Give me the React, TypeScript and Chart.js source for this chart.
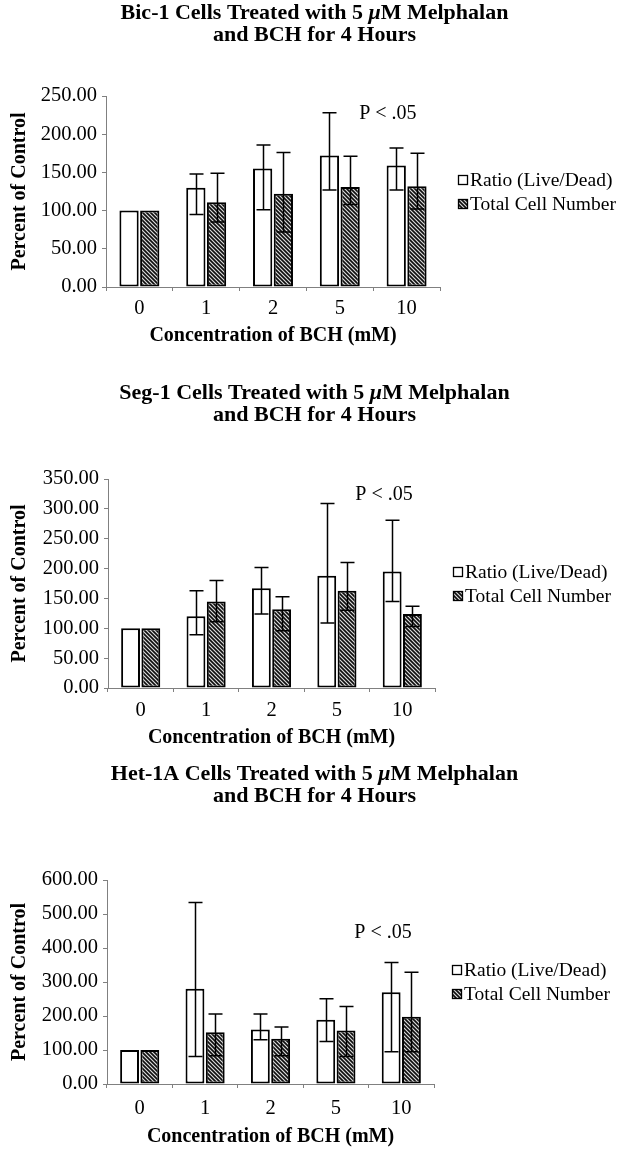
import React, { useEffect, useRef } from 'react';
import { Chart, registerables } from 'chart.js';

Chart.register(...registerables);

const PAGE_W = 629;
const FONT = '"Liberation Serif", "Times New Roman", serif';
const AXIS = '#808080';

// ---- shared text ----
const categories = ['0', '1', '2', '5', '10'];
const seriesLabels = ['Ratio (Live/Dead)', 'Total Cell Number'];
const titleLine2 = 'and BCH for 4 Hours';
const yAxisTitle = 'Percent of Control';
const xAxisTitle = 'Concentration of BCH (mM)';
const pValueText = 'P < .05';

// ---- Bic-1 ----
const bicTitle = 'Bic-1 Cells Treated with 5 \u03bcM Melphalan';
const bicRatio = [100, 130, 155, 172, 159];
const bicRatioLow = [null, 95, 101, 127, 127];
const bicRatioHigh = [null, 148, 186, 228, 182];
const bicTotal = [100, 111, 122, 131, 132];
const bicTotalLow = [null, 85, 72, 108, 102];
const bicTotalHigh = [null, 149, 176, 171, 175];
const bicYTicks = [0, 50, 100, 150, 200, 250];

// ---- Seg-1 ----
const segTitle = 'Seg-1 Cells Treated with 5 \u03bcM Melphalan';
const segRatio = [100, 120, 167, 188, 195];
const segRatioLow = [null, 89, 124, 109, 145];
const segRatioHigh = [null, 163, 202, 309, 281];
const segTotal = [100, 145, 132, 163, 124];
const segTotalLow = [null, 111, 96, 130, 103];
const segTotalHigh = [null, 180, 153, 210, 137];
const segYTicks = [0, 50, 100, 150, 200, 250, 300, 350];

// ---- Het-1A ----
const hetTitle = 'Het-1A Cells Treated with 5 \u03bcM Melphalan';
const hetRatio = [100, 280, 160, 189, 270];
const hetRatioLow = [null, 81, 130, 125, 95];
const hetRatioHigh = [null, 534, 206, 251, 357];
const hetTotal = [100, 152, 133, 157, 198];
const hetTotalLow = [null, 83, 83, 81, 95];
const hetTotalHigh = [null, 206, 168, 228, 329];
const hetYTicks = [0, 100, 200, 300, 400, 500, 600];

type Spec = {
  title: string;
  ratio: number[]; ratioLow: (number | null)[]; ratioHigh: (number | null)[];
  total: number[]; totalLow: (number | null)[]; totalHigh: (number | null)[];
  yTicks: number[];
  pAt: { x: number; y: number };
  // layout (page coordinates)
  top: number; height: number; titleY1: number;
  areaTop: number; areaBottom: number; areaLeft: number; areaRight: number;
  labelY: number; xTitleY: number;
};

const specs: Spec[] = [
  {
    title: bicTitle, ratio: bicRatio, ratioLow: bicRatioLow, ratioHigh: bicRatioHigh,
    total: bicTotal, totalLow: bicTotalLow, totalHigh: bicTotalHigh, yTicks: bicYTicks,
    pAt: { x: 3.72, y: 227 },
    top: 0, height: 376, titleY1: 13, areaTop: 96, areaBottom: 287, areaLeft: 106, areaRight: 440,
    labelY: 309, xTitleY: 336,
  },
  {
    title: segTitle, ratio: segRatio, ratioLow: segRatioLow, ratioHigh: segRatioHigh,
    total: segTotal, totalLow: segTotalLow, totalHigh: segTotalHigh, yTicks: segYTicks,
    pAt: { x: 3.72, y: 324 },
    top: 376, height: 376, titleY1: 393, areaTop: 479, areaBottom: 688, areaLeft: 108, areaRight: 435,
    labelY: 711, xTitleY: 738,
  },
  {
    title: hetTitle, ratio: hetRatio, ratioLow: hetRatioLow, ratioHigh: hetRatioHigh,
    total: hetTotal, totalLow: hetTotalLow, totalHigh: hetTotalHigh, yTicks: hetYTicks,
    pAt: { x: 3.72, y: 444 },
    top: 752, height: 400, titleY1: 774, areaTop: 880, areaBottom: 1084, areaLeft: 107, areaRight: 434,
    labelY: 1109, xTitleY: 1137,
  },
];

function makeHatch(): CanvasPattern | string {
  const c = document.createElement('canvas');
  c.width = 4;
  c.height = 4;
  const g = c.getContext('2d');
  if (!g) return '#555';
  const shades = ['#d4d4d4', '#4e4e4e', '#0e0e0e', '#4e4e4e'];
  for (let y = 0; y < 4; y++) {
    for (let x = 0; x < 4; x++) {
      g.fillStyle = shades[(((x - y) % 4) + 4) % 4];
      g.fillRect(x, y, 1, 1);
    }
  }
  return g.createPattern(c, 'repeat') || '#555';
}

const errorBarPlugin = {
  id: 'errorBars',
  afterDatasetsDraw(chart: any) {
    const { ctx } = chart;
    const y = chart.scales.y;
    chart.data.datasets.forEach((ds: any, di: number) => {
      const meta = chart.getDatasetMeta(di);
      meta.data.forEach((bar: any, i: number) => {
        const lo = ds.errLow ? ds.errLow[i] : null;
        const hi = ds.errHigh ? ds.errHigh[i] : null;
        if (lo == null || hi == null) return;
        const x = Math.round(bar.x) + 0.5;
        const yl = y.getPixelForValue(lo);
        const yh = y.getPixelForValue(hi);
        ctx.save();
        ctx.strokeStyle = '#000';
        ctx.lineWidth = 1.5;
        ctx.beginPath();
        ctx.moveTo(x, yl);
        ctx.lineTo(x, yh);
        ctx.moveTo(x - 7, yl);
        ctx.lineTo(x + 7, yl);
        ctx.moveTo(x - 7, yh);
        ctx.lineTo(x + 7, yh);
        ctx.stroke();
        ctx.restore();
      });
    });
  },
};

const sideLegendPlugin = {
  id: 'sideLegend',
  afterDraw(chart: any) {
    const { ctx, chartArea } = chart;
    const x0 = chartArea.right + 18;
    const cy = (chartArea.top + chartArea.bottom) / 2;
    const gap = 24;
    chart.data.datasets.forEach((ds: any, i: number) => {
      const yc = cy + (i - 0.5) * gap;
      ctx.save();
      ctx.fillStyle = ds.backgroundColor;
      ctx.fillRect(x0, Math.round(yc - 5), 10, 10);
      ctx.strokeStyle = '#000';
      ctx.lineWidth = 1.3;
      ctx.strokeRect(x0 + 0.5, Math.round(yc - 5) + 0.5, 9, 9);
      ctx.fillStyle = '#000';
      ctx.font = `19.5px ${FONT}`;
      ctx.textAlign = 'left';
      ctx.textBaseline = 'middle';
      ctx.fillText(ds.label, x0 + 12, yc + 1);
      ctx.restore();
    });
  },
};

const pValuePlugin = {
  id: 'pValue',
  afterDraw(chart: any, _args: any, opts: any) {
    const { ctx } = chart;
    const px = chart.scales.x.getPixelForValue(opts.x);
    const py = chart.scales.y.getPixelForValue(opts.y);
    ctx.save();
    ctx.fillStyle = '#000';
    ctx.font = `20px ${FONT}`;
    ctx.textAlign = 'center';
    ctx.textBaseline = 'middle';
    ctx.fillText(pValueText, px, py);
    ctx.restore();
  },
};

// Two-line bold title centred on the full canvas width; the micro sign is set in italics.
const pageTitlePlugin = {
  id: 'pageTitle',
  afterDraw(chart: any, _args: any, opts: any) {
    const { ctx } = chart;
    const size = opts.size;
    const lh = opts.lineHeight;
    const cx = chart.width / 2;
    const lines: string[] = opts.lines;
    ctx.save();
    ctx.fillStyle = '#000';
    ctx.textBaseline = 'middle';
    ctx.textAlign = 'left';
    lines.forEach((line, li) => {
      const parts = line.split('\u03bc');
      const segs: { t: string; italic: boolean }[] = [];
      parts.forEach((p, pi) => {
        if (pi > 0) segs.push({ t: '\u03bc', italic: true });
        if (p) segs.push({ t: p, italic: false });
      });
      const fontFor = (it: boolean) => `${it ? 'italic ' : ''}bold ${size}px ${FONT}`;
      let total = 0;
      const widths = segs.map((s) => {
        ctx.font = fontFor(s.italic);
        const w = ctx.measureText(s.t).width;
        total += w;
        return w;
      });
      let x = cx - total / 2;
      const y = opts.y1 + li * lh;
      segs.forEach((s, si) => {
        ctx.font = fontFor(s.italic);
        ctx.fillText(s.t, x, y);
        x += widths[si];
      });
    });
    ctx.restore();
  },
};

function buildConfig(spec: Spec, hatch: CanvasPattern | string): any {
  const tickSize = 20.5;
  const tickLen = 4;
  const xTickPad = spec.labelY - spec.areaBottom - tickLen - (tickSize * 1.2) / 2;
  const xHeight = spec.top + spec.height - spec.areaBottom;
  const axisTitleSize = 20;
  const xTitlePadB = spec.top + spec.height - spec.xTitleY - (axisTitleSize * 1.2) / 2;
  const yMax = spec.yTicks[spec.yTicks.length - 1];
  const yStep = spec.yTicks[1] - spec.yTicks[0];

  const gridCommon = {
    display: true,
    drawOnChartArea: false,
    drawTicks: true,
    tickLength: tickLen,
    color: AXIS,
    lineWidth: 1,
  };

  return {
    type: 'bar',
    data: {
      labels: categories,
      datasets: [
        {
          label: seriesLabels[0],
          data: spec.ratio,
          errLow: spec.ratioLow,
          errHigh: spec.ratioHigh,
          backgroundColor: '#ffffff',
          borderColor: '#000000',
          borderWidth: 2,
          borderSkipped: false,
          barPercentage: 0.93,
          categoryPercentage: 0.62,
        },
        {
          label: seriesLabels[1],
          data: spec.total,
          errLow: spec.totalLow,
          errHigh: spec.totalHigh,
          backgroundColor: hatch,
          borderColor: '#000000',
          borderWidth: 2,
          borderSkipped: false,
          barPercentage: 0.93,
          categoryPercentage: 0.62,
        },
      ],
    },
    options: {
      responsive: false,
      animation: false,
      devicePixelRatio: 1,
      layout: {
        padding: { left: 0, right: PAGE_W - spec.areaRight, top: spec.areaTop - spec.top, bottom: 0 },
      },
      plugins: {
        legend: { display: false },
        tooltip: { enabled: false },
        title: { display: false },
        pValue: { x: spec.pAt.x, y: spec.pAt.y },
        pageTitle: {
          lines: [spec.title, titleLine2],
          size: 22,
          lineHeight: 22,
          y1: spec.titleY1 - spec.top,
        },
      },
      scales: {
        x: {
          type: 'category',
          offset: true,
          grid: { ...gridCommon, offset: true },
          border: { display: true, color: AXIS, width: 1 },
          ticks: {
            color: '#000',
            font: { family: FONT, size: tickSize },
            padding: xTickPad,
            maxRotation: 0,
            autoSkip: false,
          },
          title: {
            display: true,
            text: xAxisTitle,
            color: '#000',
            font: { family: FONT, size: axisTitleSize, weight: 'bold', lineHeight: 1.2 },
            padding: { top: 0, bottom: xTitlePadB },
          },
          afterFit: (s: any) => {
            s.height = xHeight;
          },
        },
        y: {
          min: 0,
          max: yMax,
          grid: { ...gridCommon, offset: false },
          border: { display: true, color: AXIS, width: 1 },
          ticks: {
            stepSize: yStep,
            color: '#000',
            font: { family: FONT, size: tickSize },
            padding: 5,
            autoSkip: false,
            callback: (v: any) => Number(v).toFixed(2),
          },
          title: {
            display: true,
            text: yAxisTitle,
            color: '#000',
            font: { family: FONT, size: axisTitleSize, weight: 'bold', lineHeight: 1.2 },
            padding: { top: 8, bottom: 0 },
          },
          afterFit: (s: any) => {
            s.width = spec.areaLeft;
          },
        },
      },
    },
    plugins: [errorBarPlugin, sideLegendPlugin, pValuePlugin, pageTitlePlugin],
  };
}

function Panel({ spec }: { spec: Spec }) {
  const ref = useRef<HTMLCanvasElement | null>(null);
  useEffect(() => {
    const canvas = ref.current;
    if (!canvas) return;
    const hatch = makeHatch();
    const chart = new Chart(canvas, buildConfig(spec, hatch));
    return () => chart.destroy();
  }, [spec]);
  return (
    <canvas
      ref={ref}
      width={PAGE_W}
      height={spec.height}
      style={{ position: 'absolute', left: 0, top: spec.top, display: 'block' }}
    />
  );
}

export default function App() {
  return (
    <div
      style={{
        position: 'absolute',
        left: 0,
        top: 0,
        width: PAGE_W,
        height: 1152,
        background: '#fff',
        overflow: 'hidden',
      }}
    >
      {specs.map((s, i) => (
        <Panel key={i} spec={s} />
      ))}
    </div>
  );
}
